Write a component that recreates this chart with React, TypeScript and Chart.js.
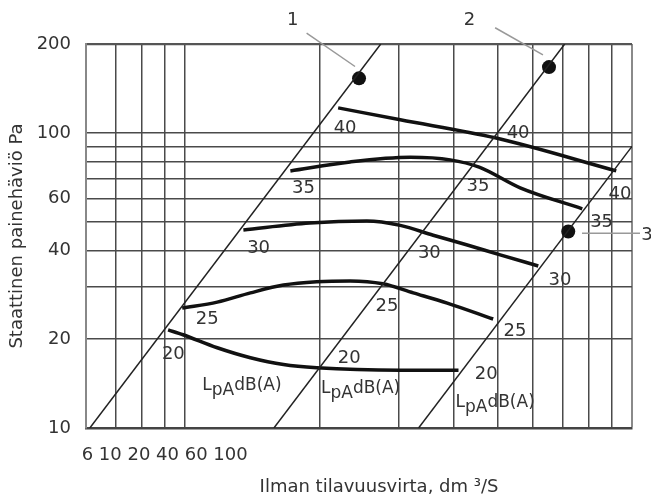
import { useEffect, useRef } from "react"
import { Chart, registerables } from "chart.js"

Chart.register(...registerables)

// Ilman tilavuusvirta dm3/s (log) vs staattinen painehäviö Pa (log)
const xGrid = [6, 7, 8, 9, 10, 20, 30, 40, 50, 60, 70, 80, 90, 100]
const yGrid = [10, 20, 30, 40, 50, 60, 70, 80, 90, 100, 200]
const yTickLabels = [10, 20, 40, 60, 100, 200]
// the printed tick row sits crammed under the left grid block
const xTickLabels = ["6", "10", "20", "40", "60", "100"]
const xTickAnchor = 9

// system lines (p ~ q^2)
const line1Q = [6.12, 27.4]
const line1P = [10, 200]
const line2Q = [15.8, 70.7]
const line2P = [10, 200]
const line3Q = [33.3, 100]
const line3P = [10, 90]

// sound level curves LpA dB(A)
const db40Q = [22.0, 30.3, 49.4, 92.2]
const db40P = [121.5, 110.7, 96.2, 74.3]
const db35Q = [17.2, 23.4, 31.9, 39.2, 45.5, 56.2, 77.4]
const db35P = [74.3, 79.7, 82.6, 81.0, 76.5, 65.1, 55.3]
const db30Q = [13.5, 19.0, 25.5, 30.3, 35.9, 42.8, 50.7, 61.7]
const db30P = [46.9, 49.5, 50.3, 48.6, 45.0, 41.7, 38.6, 35.4]
const db25Q = [9.85, 11.8, 14.0, 16.6, 19.7, 23.4, 27.7, 32.4, 38.6, 48.9]
const db25P = [25.5, 26.7, 28.7, 30.5, 31.3, 31.5, 30.8, 28.7, 26.5, 23.4]
const db20Q = [9.16, 9.89, 11.8, 14.0, 16.6, 19.7, 30.3, 40.9]
const db20P = [21.5, 20.7, 18.7, 17.3, 16.4, 16.0, 15.7, 15.7]

// level numbers along the lines
const levelText = ["40", "40", "40", "35", "35", "35", "30", "30", "30", "25", "25", "25", "20", "20", "20"]
const levelQ = [22.8, 55.6, 94.0, 18.4, 45.2, 85.5, 14.6, 35.2, 69.0, 11.2, 28.3, 54.7, 9.41, 23.3, 47.2]
const levelP = [103.6, 99.8, 62.1, 64.9, 66.1, 49.7, 40.6, 39.1, 31.7, 23.4, 25.9, 21.2, 17.8, 17.2, 15.2]

const unitQ = [13.4, 24.7, 49.4]
const unitP = [13.9, 13.6, 12.2]

// operating points 1..3 with leader lines
const pointNames = ["1", "2", "3"]
const pointQ = [24.5, 65.2, 72.0]
const pointP = [153, 167, 46.3]
const nameQ = [17.4, 43.3, 108]
const nameP = [241.5, 241.5, 45.1]
const leaderFromQ = [18.7, 49.4, 77.3]
const leaderFromP = [217.8, 227.0, 45.7]
const leaderToQ = [24.0, 63.2, 104.2]
const leaderToP = [167.8, 183.8, 45.7]

const FONT = "DejaVu Sans"
const TEXT = "#333"

const pts = (q: number[], p: number[]) => q.map((x, i) => ({ x, y: p[i] }))

const annotations = {
  id: "annotations",
  afterDatasetsDraw(chart: Chart) {
    const { ctx } = chart
    const x = chart.scales.x
    const y = chart.scales.y
    ctx.save()
    ctx.fillStyle = TEXT
    ctx.textBaseline = "middle"
    ctx.textAlign = "center"
    ctx.font = `18px "${FONT}"`
    levelText.forEach((t, i) => {
      ctx.fillText(t, x.getPixelForValue(levelQ[i]), y.getPixelForValue(levelP[i]))
    })

    // L with subscript pA, then dB(A)
    ctx.font = `17px "${FONT}"`
    ctx.textAlign = "left"
    const parts: [string, number][] = [["L", 0], ["pA", 5], ["dB(A)", 0]]
    const total = parts.reduce((s, [t]) => s + ctx.measureText(t).width, 0)
    unitQ.forEach((q, i) => {
      let px = x.getPixelForValue(q) - total / 2
      const py = y.getPixelForValue(unitP[i])
      parts.forEach(([t, dy]) => {
        ctx.fillText(t, px, py + dy)
        px += ctx.measureText(t).width
      })
    })

    ctx.strokeStyle = "#999"
    ctx.lineWidth = 1.5
    leaderFromQ.forEach((q, i) => {
      ctx.beginPath()
      ctx.moveTo(x.getPixelForValue(q), y.getPixelForValue(leaderFromP[i]))
      ctx.lineTo(x.getPixelForValue(leaderToQ[i]), y.getPixelForValue(leaderToP[i]))
      ctx.stroke()
    })
    ctx.font = `18px "${FONT}"`
    ctx.textAlign = "center"
    pointNames.forEach((t, i) => {
      ctx.fillText(t, x.getPixelForValue(nameQ[i]), y.getPixelForValue(nameP[i]))
    })
    ctx.restore()
  },
}

export default function App() {
  const canvasRef = useRef<HTMLCanvasElement>(null)

  useEffect(() => {
    if (!canvasRef.current) return
    const ctx = canvasRef.current.getContext("2d")
    if (!ctx) return

    const system = (q: number[], p: number[]) => ({
      data: pts(q, p),
      showLine: true,
      borderColor: "#222",
      borderWidth: 1.5,
      pointRadius: 0,
    })
    const level = (q: number[], p: number[]) => ({
      data: pts(q, p),
      showLine: true,
      borderColor: "#111",
      borderWidth: 3.5,
      pointRadius: 0,
      cubicInterpolationMode: "monotone" as const,
    })

    const chart = new Chart(ctx, {
      type: "scatter",
      data: {
        datasets: [
          system(line1Q, line1P),
          system(line2Q, line2P),
          system(line3Q, line3P),
          level(db40Q, db40P),
          level(db35Q, db35P),
          level(db30Q, db30P),
          level(db25Q, db25P),
          level(db20Q, db20P),
          {
            data: pts(pointQ, pointP),
            pointRadius: 7,
            backgroundColor: "#111",
            borderWidth: 0,
          },
        ],
      },
      options: {
        animation: false,
        responsive: true,
        maintainAspectRatio: false,
        layout: { padding: { top: 44, right: 19, bottom: 0, left: 0 } },
        plugins: { legend: { display: false }, tooltip: { enabled: false } },
        scales: {
          x: {
            type: "logarithmic",
            min: 6,
            max: 100,
            afterBuildTicks: (s: any) => {
              s.ticks = xGrid.map((v) => ({ value: v }))
            },
            afterFit: (s: any) => {
              s.height = 70
            },
            grid: {
              color: (c: any) => (c.tick?.value === 100 ? "#8a8a8a" : "#4a4a4a"),
              lineWidth: (c: any) => (c.tick?.value === 100 ? 2 : 1.5),
              drawTicks: false,
            },
            border: { color: "#444", width: 2.5 },
            ticks: {
              autoSkip: false,
              maxRotation: 0,
              padding: 17,
              color: TEXT,
              font: { family: FONT, size: 18 },
              callback: (v: any) => (v === xTickAnchor ? xTickLabels.join(" ") : ""),
            },
            title: {
              display: true,
              text: "       Ilman tilavuusvirta, dm ³/S",
              color: TEXT,
              font: { family: FONT, size: 18 },
              padding: { top: 0, bottom: 0 },
            },
          },
          y: {
            type: "logarithmic",
            min: 10,
            max: 200,
            afterBuildTicks: (s: any) => {
              s.ticks = yGrid.map((v) => ({ value: v }))
            },
            afterFit: (s: any) => {
              s.width = 86
            },
            grid: {
              color: (c: any) => (c.tick?.value === 200 ? "#555" : "#4a4a4a"),
              lineWidth: (c: any) => (c.tick?.value === 200 ? 2.2 : 1.5),
              drawTicks: false,
            },
            border: { color: "#888", width: 2 },
            ticks: {
              autoSkip: false,
              padding: 15,
              color: TEXT,
              font: { family: FONT, size: 18 },
              callback: (v: any) => (yTickLabels.includes(v) ? String(v) : ""),
            },
            title: {
              display: true,
              text: "Staattinen painehäviö Pa",
              color: TEXT,
              font: { family: FONT, size: 18 },
              padding: { top: 7, bottom: 0 },
            },
          },
        },
      },
      plugins: [annotations],
    })

    return () => chart.destroy()
  }, [])

  return (
    <div style={{ position: "absolute", left: 0, top: 0, width: 651, height: 498 }}>
      <canvas ref={canvasRef} />
    </div>
  )
}
